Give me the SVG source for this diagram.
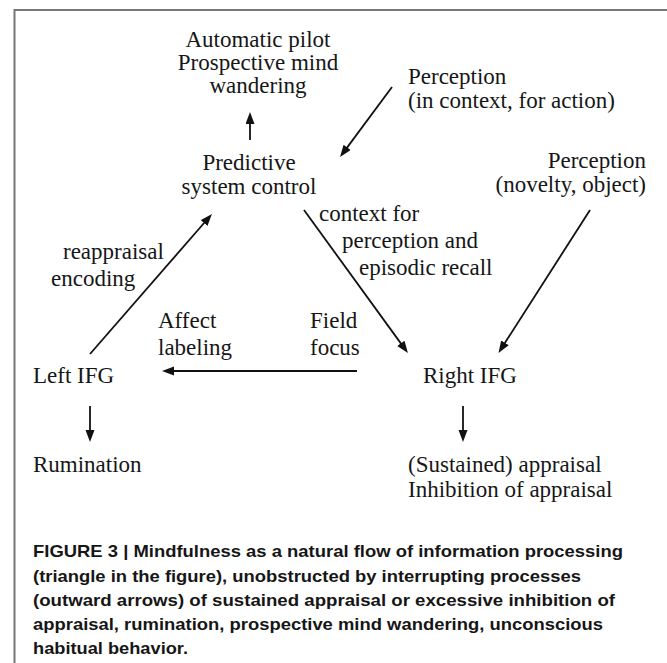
<svg xmlns="http://www.w3.org/2000/svg" width="667" height="663" viewBox="0 0 667 663">
<defs>
<style>
.t{font-family:"Liberation Serif","Times New Roman",serif;font-size:23px;fill:#161616}
.c{font-family:"Liberation Sans",Arial,sans-serif;font-size:17px;font-weight:bold;fill:#161616}
.a{stroke:#111;stroke-width:1.8;fill:none;marker-end:url(#ah)}
</style>
<marker id="ah" markerUnits="userSpaceOnUse" markerWidth="14" markerHeight="10" refX="4" refY="4.5" orient="auto">
<path d="M0,0 L12,4.5 L0,9 z" fill="#111"/>
</marker>
</defs>
<rect width="667" height="663" fill="#fff"/>
<path d="M14.5,663 V10 H667" fill="none" stroke="#777" stroke-width="2"/>

<g id="automatic">
<text class="t" x="258" y="47" text-anchor="middle">Automatic pilot</text>
<text class="t" x="258" y="70" text-anchor="middle">Prospective mind</text>
<text class="t" x="258" y="93" text-anchor="middle">wandering</text>
</g>
<g id="perception-context">
<text class="t" x="408" y="84">Perception</text>
<text class="t" x="408" y="108">(in context, for action)</text>
</g>
<g id="predictive">
<text class="t" x="249" y="170" text-anchor="middle">Predictive</text>
<text class="t" x="249" y="194" text-anchor="middle">system control</text>
</g>
<g id="perception-novelty">
<text class="t" x="646" y="168" text-anchor="end">Perception</text>
<text class="t" x="646" y="192" text-anchor="end">(novelty, object)</text>
</g>
<g id="left-ifg">
<text class="t" x="33" y="383">Left IFG</text>
</g>
<g id="right-ifg">
<text class="t" x="423" y="383">Right IFG</text>
</g>
<g id="rumination">
<text class="t" x="33" y="472">Rumination</text>
</g>
<g id="appraisal">
<text class="t" x="408" y="472">(Sustained) appraisal</text>
<text class="t" x="408" y="497">Inhibition of appraisal</text>
</g>

<g id="connectors">
<line class="a" x1="250" y1="140" x2="250" y2="120"/>
<line class="a" x1="392" y1="87" x2="344.8" y2="150.6"/>
<line class="a" x1="90" y1="354" x2="206.7" y2="220"/>
<line class="a" x1="304" y1="210" x2="403.2" y2="346.6"/>
<line class="a" x1="590" y1="210" x2="502.8" y2="346.2"/>
<line class="a" x1="357" y1="371" x2="170" y2="371"/>
<line class="a" x1="90" y1="406" x2="90" y2="434"/>
<line class="a" x1="463" y1="406" x2="463" y2="434"/>
<g id="labels">
<text class="t" x="319" y="221">context for</text>
<text class="t" x="342" y="248">perception and</text>
<text class="t" x="359" y="275">episodic recall</text>
<text class="t" x="63" y="259">reappraisal</text>
<text class="t" x="51" y="286">encoding</text>
<text class="t" x="158" y="328">Affect</text>
<text class="t" x="158" y="355">labeling</text>
<text class="t" x="310" y="328">Field</text>
<text class="t" x="310" y="355">focus</text>
</g>
</g>

<g id="caption">
<text class="c" x="33" y="557" textLength="590" lengthAdjust="spacingAndGlyphs">FIGURE 3 | Mindfulness as a natural flow of information processing</text>
<text class="c" x="33" y="582" textLength="548" lengthAdjust="spacingAndGlyphs">(triangle in the figure), unobstructed by interrupting processes</text>
<text class="c" x="33" y="606" textLength="582" lengthAdjust="spacingAndGlyphs">(outward arrows) of sustained appraisal or excessive inhibition of</text>
<text class="c" x="33" y="630" textLength="570" lengthAdjust="spacingAndGlyphs">appraisal, rumination, prospective mind wandering, unconscious</text>
<text class="c" x="33" y="654" textLength="155" lengthAdjust="spacingAndGlyphs">habitual behavior.</text>
</g>
</svg>
